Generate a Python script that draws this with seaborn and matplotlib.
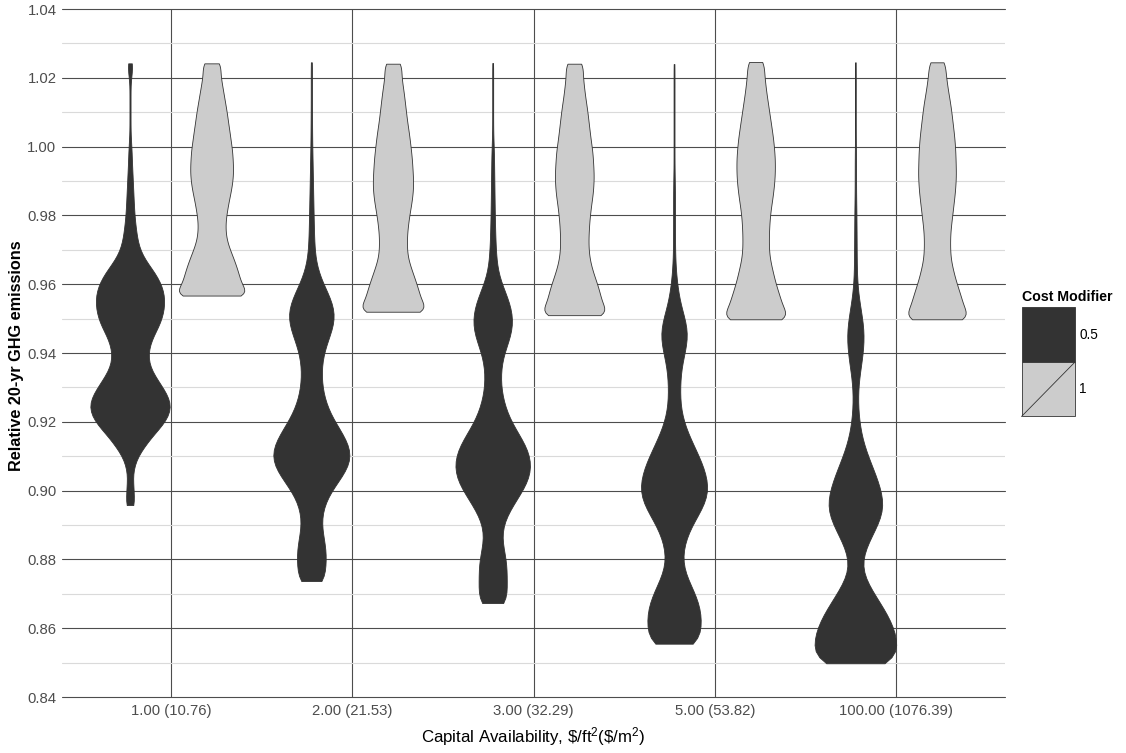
import numpy as np
import pandas as pd
import matplotlib
matplotlib.use("Agg")
import matplotlib.pyplot as plt
import seaborn as sns
from matplotlib.patches import Rectangle
from matplotlib.lines import Line2D

# ---------------------------------------------------------------- data
capital_levels = ["1.00 (10.76)", "2.00 (21.53)", "3.00 (32.29)",
                  "5.00 (53.82)", "100.00 (1076.39)"]
cost_modifiers = ["0.5", "1"]

# (min, max) relative 20-yr GHG emissions of each run set
range_cm05 = [(0.8958, 1.0242), (0.8737, 1.0245), (0.8673, 1.0243),
              (0.8555, 1.0240), (0.8498, 1.0245)]
range_cm1 = [(0.9567, 1.0242), (0.9520, 1.0241), (0.9510, 1.0241),
             (0.9498, 1.0246), (0.9498, 1.0245)]

# relative frequency of runs in evenly spaced bins, from the max down to the min
freq_cm05_cap1 = [5.3, 4, 1, 1, 1, 1, 1, 1, 1, 2,
                  3, 3.5, 4, 5, 5.5, 6.5, 7, 8, 9, 11,
                  13, 16, 22, 32, 45, 55, 62, 65, 65, 62,
                  57, 48, 40, 35, 34, 37, 46, 57, 68, 76,
                  77, 70, 58, 42, 30, 18, 10, 6, 5, 7,
                  7, 9.3]
freq_cm05_cap2 = [1.6, 1.2, 1.2, 1.2, 1.2, 1.2, 1.3, 1.5, 1.5, 1.7,
                  2, 2.3, 2.6, 3, 3.3, 3.6, 4, 4.3, 4.7, 5,
                  5.5, 6, 7, 9, 13, 19, 27, 36, 43, 47,
                  46, 41, 34, 28, 23, 21, 20, 21, 23, 27,
                  33, 41, 52, 63, 73, 79, 79, 72, 60, 47,
                  35, 27, 22, 20, 21, 25, 28, 30, 29, 26,
                  32]
freq_cm05_cap3 = [1.3, 1, 1, 1, 1, 1, 1, 1, 1, 1.5,
                  2.5, 3, 3, 3.3, 3.6, 3.8, 4, 4.3, 4.6, 5,
                  5.5, 6, 7, 8, 10, 14, 21, 29, 36, 41,
                  43, 42, 37, 30, 23, 19, 17, 17, 18, 21,
                  26, 32, 41, 52, 64, 74, 80, 82, 80, 73,
                  62, 50, 38, 28, 21, 19, 20, 25, 29, 30,
                  30, 30, 29, 37]
freq_cm05_cap5 = [1.3, 1, 1, 1, 1, 1, 1, 1, 1, 1,
                  1, 1, 1, 1.3, 2, 2, 2, 2, 2, 2,
                  2, 2.2, 2.5, 3, 4, 6, 8, 11, 15, 21,
                  27, 30, 29, 25, 20, 16, 14, 13, 13, 13,
                  15, 19, 25, 33, 42, 51, 60, 67, 72, 75,
                  73, 65, 54, 42, 32, 25, 20, 18, 19, 25,
                  34, 44, 52, 57, 60, 59, 54, 67]
freq_cm05_cap100 = [0.9, 0.7, 0.7, 0.7, 0.7, 0.7, 0.7, 0.7, 0.7, 0.7,
                    1, 1.3, 1.3, 1.3, 1.3, 1.3, 1.5, 2, 2, 2.2,
                    2.3, 2.4, 2.5, 2.6, 2.8, 3, 4, 5.5, 8, 11,
                    14, 16, 17, 16, 14, 12, 9, 6.5, 5.3, 4.7,
                    5, 6, 8, 10, 14, 19, 25, 32, 39, 45,
                    50, 54, 55, 50, 42, 33, 24, 17, 12, 12,
                    17, 27, 37, 48, 59, 68, 75, 80, 82, 77,
                    95]

freq_cm1_cap1 = [21, 17, 20, 23, 26, 29, 32, 34, 37, 39,
                 42, 43, 44, 44, 42, 39, 35, 32, 29, 28,
                 29, 33, 40, 47, 53, 58, 62, 88]
freq_cm1_cap2 = [20, 16, 18, 21, 23, 25, 27, 29, 32, 34,
                 36, 38, 39, 40, 41, 40, 38, 35, 32, 30,
                 28, 28, 28, 31, 37, 43, 49, 54, 57, 83]
freq_cm1_cap3 = [20, 16, 18, 20, 22, 25, 27, 29, 31, 33,
                 36, 37, 38, 39, 38, 37, 34, 32, 30, 29,
                 28, 28, 29, 32, 37, 43, 49, 53, 56, 80]
freq_cm1_cap5 = [19, 16, 18, 20, 22, 25, 27, 30, 32, 35,
                 36, 38, 38, 38, 37, 35, 33, 30, 28, 27,
                 26, 26, 26, 28, 32, 36, 40, 46, 51, 55,
                 80]
freq_cm1_cap100 = [19, 16, 19, 21, 24, 27, 29, 31, 33, 35,
                   36, 37, 37, 38, 37, 36, 34, 32, 30, 28,
                   26, 26, 26, 27, 31, 35, 40, 46, 51, 54,
                   78]

freq_cm05 = [freq_cm05_cap1, freq_cm05_cap2, freq_cm05_cap3,
             freq_cm05_cap5, freq_cm05_cap100]
freq_cm1 = [freq_cm1_cap1, freq_cm1_cap2, freq_cm1_cap3,
            freq_cm1_cap5, freq_cm1_cap100]


def runs_frame(cost, ranges, freqs):
    parts = []
    for cap, (lo, hi), freq in zip(capital_levels, ranges, freqs):
        freq = np.asarray(freq, dtype=float)
        levels = np.linspace(hi, lo, len(freq))
        n_runs = np.rint(freq * 10).astype(int)
        vals = np.repeat(levels, n_runs)
        parts.append(pd.DataFrame({"capital": cap, "cost": cost, "emissions": vals}))
    return pd.concat(parts, ignore_index=True)


runs = pd.concat([runs_frame("0.5", range_cm05, freq_cm05),
                  runs_frame("1", range_cm1, freq_cm1)], ignore_index=True)

fill_colors = {"0.5": "#333333", "1": "#CCCCCC"}
# the trimmed cost-modifier-1 violins keep less visible area, so they are drawn narrower
violin_gap = {"0.5": 0.0, "1": 0.2}
y_major = [0.84, 0.86, 0.88, 0.90, 0.92, 0.94, 0.96, 0.98, 1.00, 1.02, 1.04]
y_minor = [0.85, 0.87, 0.89, 0.91, 0.93, 0.95, 0.97, 0.99, 1.01, 1.03]

# ---------------------------------------------------------------- style
sns.set_style("white")
plt.rcParams["font.family"] = ["Liberation Sans", "DejaVu Sans"]
plt.rcParams["mathtext.default"] = "regular"

W, H = 1126, 753
fig = plt.figure(figsize=(W / 100, H / 100), dpi=100)
ax = fig.add_axes([62 / W, 1 - 697 / H, (1005 - 62) / W, (697 - 9) / H])

for cost in cost_modifiers:
    sns.violinplot(data=runs[runs["cost"] == cost], x="capital", y="emissions",
                   hue="cost", order=capital_levels, hue_order=cost_modifiers,
                   palette=fill_colors, saturation=1, inner=None, cut=0,
                   density_norm="area", width=0.9, dodge=True,
                   gap=violin_gap[cost], bw_method=0.1, linewidth=0.6,
                   linecolor="#333333", legend=False, ax=ax)

ax.set_xlim(-0.6, len(capital_levels) - 0.4)
ax.set_ylim(0.84, 1.04)
ax.set_yticks(y_major)
ax.set_yticks(y_minor, minor=True)
ax.set_yticklabels([f"{v:.2f}" for v in y_major])
ax.set_axisbelow(True)
ax.grid(True, which="major", axis="both", color="#4D4D4D", linewidth=0.8)
ax.grid(True, which="minor", axis="y", color="#DADADA", linewidth=0.8)
for gl in ax.get_ygridlines() + ax.get_xgridlines():
    gl.set_clip_on(False)
for s in ax.spines.values():
    s.set_visible(False)

ax.tick_params(axis="x", which="major", length=3, width=0.8, color="#333333",
               labelsize=10.7, labelcolor="#4D4D4D", pad=2)
ax.tick_params(axis="y", which="both", length=0, labelsize=10.7,
               labelcolor="#4D4D4D", pad=4)
ax.set_xlabel("")
ax.set_ylabel("")

fig.text(17 / W, 1 - 356 / H, "Relative 20-yr GHG emissions", rotation=90,
         ha="center", va="center", fontsize=11.7, fontweight="bold", color="black")
fig.text(533.5 / W, 1 - 737 / H, r"Capital Availability, \$/ft$^{2}$(\$/m$^{2}$)",
         ha="center", va="center", fontsize=12.2, color="black")

# ---------------------------------------------------------------- legend
kx0, kx1 = 1021.5, 1075.0
ky = [307.0, 362.0, 416.5]
fig.text(kx0 / W, 1 - 297 / H, "Cost Modifier", ha="left", va="center",
         fontsize=10.2, fontweight="bold", color="black")
for i, cost in enumerate(cost_modifiers):
    fig.add_artist(Rectangle((kx0 / W, 1 - ky[i + 1] / H), (kx1 - kx0) / W,
                             (ky[i + 1] - ky[i]) / H, transform=fig.transFigure,
                             facecolor=fill_colors[cost], edgecolor="#333333",
                             linewidth=0.6))
    fig.text(1079 / W, 1 - (ky[i] + ky[i + 1]) / 2 / H, cost, ha="left",
             va="center", fontsize=9.8, color="black")
fig.add_artist(Line2D([kx0 / W, kx1 / W], [1 - ky[2] / H, 1 - ky[1] / H],
                      transform=fig.transFigure, color="#333333", linewidth=0.6))

fig.savefig("out.png", dpi=100, facecolor="white")
